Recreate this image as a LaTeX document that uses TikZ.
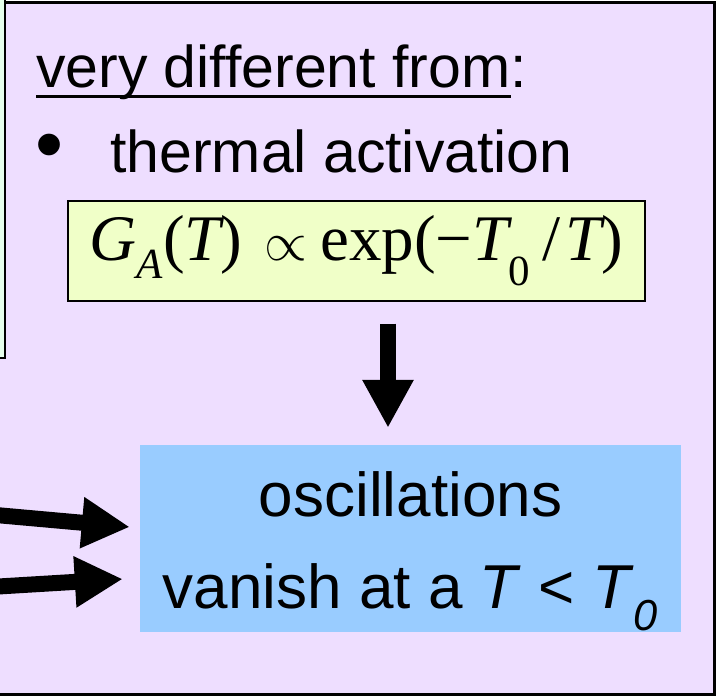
\documentclass[tikz,border=0pt]{standalone}
\usepackage{fontspec}
\setmainfont{Liberation Sans}
\newfontfamily\timesfont{Liberation Serif}
\usetikzlibrary{arrows.meta,calc,positioning}
\definecolor{lavender}{RGB}{238,222,255}
\definecolor{mintbg}{RGB}{230,255,236}
\definecolor{formulabg}{RGB}{240,255,200}
\definecolor{resultblue}{RGB}{153,204,255}
\newcommand{\lowsub}[2]{\raisebox{#1}{\fontsize{43}{43}\selectfont #2}}

\begin{document}
\begin{tikzpicture}[x=1pt,y=-1pt,
  bigarrow/.style={line width=16pt, -{Triangle[length=48pt,width=48pt]}},
  bodytext/.style={font=\fontsize{59}{70}\selectfont, anchor=base west, inner sep=0pt}]
\useasboundingbox (0,0) rectangle (719,697);
\clip (0,0) rectangle (719,697);
% panels
\draw[line width=3pt, fill=lavender] (-60,2) rectangle (714,694);
\draw[line width=2.5pt, fill=mintbg] (-60,-20) rectangle (5,358);
% text
\node[bodytext] (head) at (36,87) {very different from};
\draw[line width=3pt] ([yshift=-9pt]head.base west) -- ([yshift=-9pt]head.base east);
\node[bodytext] (colon) at (head.base east) {:};
\node[bodytext, font=\fontsize{80}{80}\selectfont, anchor=center] (bullet) at (50,153) {•};
\node[bodytext] (thermal) at (110,172) {thermal activation};
\node[draw, line width=1.2pt, fill=formulabg, minimum width=577pt, minimum height=100pt, inner sep=0pt] (formula) at (356.5,251)
  {\timesfont\fontsize{65}{65}\selectfont\itshape G\lowsub{-18pt}{A}\upshape(\itshape T\upshape)\hspace{22pt}\scalebox{5.5}{\normalsize$\propto$}\hspace{13pt}exp(−\itshape T\upshape\lowsub{-25pt}{0}\hspace{12pt}/\hspace{5pt}\itshape T\upshape)};
\node[fill=resultblue, minimum width=541pt, minimum height=187pt, inner sep=0pt] (result) at (410.5,538.5) {};
\node[align=center, inner sep=0pt, font=\fontsize{62}{92}\selectfont] (resulttext) at ($(result.center)+(0,13)$)
  {oscillations\\vanish at a \textit{T} < \textit{T}\textsubscript{\textit{0}}};
% arrows
\coordinate (arrx) at (388,0);
\coordinate (in1) at (-60,510);
\coordinate (in2) at (-60,590);
\draw[bigarrow, shorten <=22pt, shorten >=17pt] (formula.south -| arrx) -- (result.north -| arrx);
\draw[bigarrow] (in1) -- ($(result.west)+(-10,-11.5)$);
\draw[bigarrow] (in2) -- ($(result.west)+(-17,40.5)$);
\end{tikzpicture}
\end{document}
